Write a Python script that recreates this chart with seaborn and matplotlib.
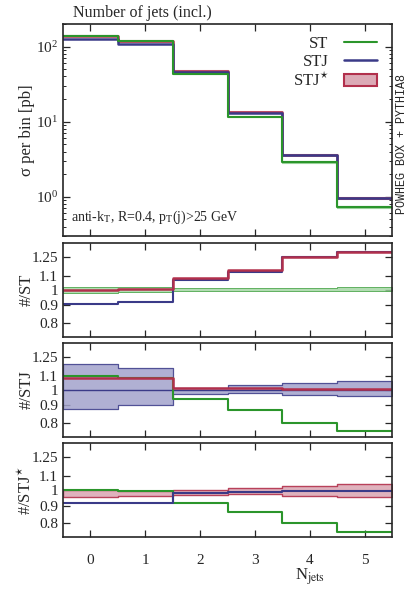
import numpy as np
import pandas as pd
import matplotlib
matplotlib.use("Agg")
import matplotlib.pyplot as plt
import matplotlib.ticker as mticker
from matplotlib.patches import Patch
from matplotlib.lines import Line2D
import seaborn as sns

# bins (number of jets, inclusive)
njets = [0, 1, 2, 3, 4, 5]
edges = [-0.5, 0.5, 1.5, 2.5, 3.5, 4.5, 5.5]

# cross section per bin [pb]
xs_st = [140.0, 118.0, 43.7, 11.7, 2.9, 0.73]
xs_stj = [128.0, 108.6, 46.5, 13.2, 3.6, 0.95]
xs_stjs = [139.3, 118.6, 47.2, 13.3, 3.63, 0.95]

# ratio panel 1: #/ST
r1_stj = [0.91, 0.92, 1.065, 1.13, 1.245, 1.29]
r1_stjs = [0.995, 1.005, 1.08, 1.14, 1.25, 1.29]
r1_st_lo = [0.98, 0.985, 0.99, 0.99, 0.99, 0.99]
r1_st_hi = [1.02, 1.015, 1.01, 1.01, 1.01, 1.015]

# ratio panel 2: #/STJ
r2_st = [1.095, 1.085, 0.94, 0.875, 0.80, 0.755]
r2_stjs = [1.085, 1.08, 1.015, 1.01, 1.005, 1.005]
r2_stj_lo = [0.88, 0.90, 0.975, 0.98, 0.965, 0.96]
r2_stj_hi = [1.19, 1.16, 1.01, 1.03, 1.045, 1.065]

# ratio panel 3: #/STJ*
r3_st = [1.0, 0.995, 0.92, 0.865, 0.80, 0.755]
r3_stj = [0.92, 0.92, 0.985, 0.99, 0.995, 0.995]
r3_stjs_lo = [0.955, 0.96, 0.97, 0.975, 0.96, 0.955]
r3_stjs_hi = [1.0, 0.995, 1.005, 1.015, 1.03, 1.045]

ratio_ticks = [0.8, 0.9, 1.0, 1.1, 1.25]
ratio_labels = ["0.8", "0.9", "1", "1.1", "1.25"]

c_st = "#2b952b"
c_stj = "#3a3a88"
c_stjs = "#b2304c"
f_st = "#9fd49f"
f_stj = "#a3a3cc"
f_stjs = "#dcaab6"

sns.set_theme(style="ticks")
plt.rcParams["font.family"] = ["Liberation Serif", "DejaVu Serif"]
plt.rcParams["mathtext.fontset"] = "stix"
plt.rcParams["font.size"] = 11
plt.rcParams["axes.linewidth"] = 1.2


def step_df(vals):
    # repeat last value so the last bin gets its full width
    return pd.DataFrame({"x": edges, "y": list(vals) + [vals[-1]]})


def step_line(ax, vals, color, lw=1.5):
    sns.lineplot(data=step_df(vals), x="x", y="y", ax=ax, color=color,
                 lw=lw, drawstyle="steps-post", estimator=None, sort=False)


def step_band(ax, lo, hi, fc, ec, alpha=1.0, lw=0.8):
    ax.fill_between(edges, list(lo) + [lo[-1]], list(hi) + [hi[-1]],
                    step="post", facecolor=fc, edgecolor=ec, lw=lw, alpha=alpha)


fig = plt.figure(figsize=(4.13, 5.90), dpi=100)
L, W = 63 / 413, 329 / 413


def ax_at(top, bottom):
    return fig.add_axes([L, 1 - bottom / 590, W, (bottom - top) / 590])


ax0 = ax_at(24, 236)
ax1 = ax_at(242.7, 336.7)
ax2 = ax_at(342.7, 437)
ax3 = ax_at(443.3, 537.3)

# main panel
step_band(ax0, [v * 0.98 for v in xs_st], [v * 1.02 for v in xs_st], f_st, f_st)
step_band(ax0, [v * 0.98 for v in xs_stjs], [v * 1.03 for v in xs_stjs], f_stjs, f_stjs)
step_line(ax0, xs_stjs, c_stjs, lw=1.8)
step_line(ax0, xs_stj, c_stj, lw=1.8)
step_line(ax0, xs_st, c_st, lw=1.5)
ax0.set_yscale("log")
ax0.set_ylim(0.3, 200)
ax0.set_ylabel("σ per bin [pb]", fontsize=12)
ax0.text(0.025, 0.07, r"anti-k$_\mathrm{T}$, R=0.4, p$_\mathrm{T}$(j)>25 GeV",
         transform=ax0.transAxes, fontsize=10)

handles = [Line2D([], [], color=c_st, lw=1.5),
           Line2D([], [], color=c_stj, lw=1.8),
           Patch(facecolor=f_stjs, edgecolor=c_stjs, lw=1.5)]
ax0.legend(handles, ["ST", "STJ", r"STJ$^{\star}$"], loc="upper right",
           bbox_to_anchor=(0.99, 1.0),
           frameon=False, markerfirst=False, fontsize=12, handlelength=2.0,
           labelspacing=0.12, borderaxespad=0.3, handletextpad=0.9)

# ratio #/ST
step_band(ax1, r1_st_lo, r1_st_hi, f_st, c_st, alpha=0.8, lw=0.6)
step_line(ax1, r1_stj, c_stj)
step_line(ax1, r1_stjs, c_stjs, lw=1.8)
ax1.set_ylabel("#/ST", fontsize=12)

# ratio #/STJ
step_band(ax2, r2_stj_lo, r2_stj_hi, f_stj, c_stj, alpha=0.85, lw=0.9)
step_line(ax2, [1.0] * 6, c_stj, lw=1.0)
step_line(ax2, r2_st, c_st)
step_line(ax2, r2_stjs, c_stjs, lw=1.8)
ax2.set_ylabel("#/STJ", fontsize=12)

# ratio #/STJ*
step_band(ax3, r3_stjs_lo, r3_stjs_hi, f_stjs, c_stjs, alpha=0.9, lw=1.0)
step_line(ax3, r3_st, c_st)
step_line(ax3, r3_stj, c_stj)
ax3.set_ylabel(r"#/STJ$^{\star}$", fontsize=12)

for ax in (ax1, ax2, ax3):
    ax.set_yscale("log")
    ax.set_ylim(0.727, 1.375)
    ax.yaxis.set_major_locator(mticker.FixedLocator(ratio_ticks))
    ax.yaxis.set_major_formatter(mticker.FixedFormatter(ratio_labels))
    ax.yaxis.set_minor_locator(mticker.NullLocator())
    ax.yaxis.set_label_coords(-0.085, 0.5)

for ax in (ax0, ax1, ax2, ax3):
    ax.set_xlim(-0.5, 5.5)
    ax.set_xticks(njets)
    ax.tick_params(which="major", direction="in", top=True, right=True,
                   length=5, width=0.9, labelsize=11)
    ax.tick_params(which="minor", direction="in", top=True, right=True,
                   length=2.5, width=0.7)
    if ax is not ax3:
        ax.set_xlabel("")
        ax.tick_params(labelbottom=False)
    for s in ax.spines.values():
        s.set_linewidth(1.2)

ax0.yaxis.set_label_coords(-0.085, 0.5)
ax3.tick_params(axis="x", pad=12)
ax3.set_xlabel(r"N$_\mathrm{jets}$", fontsize=12)
ax3.xaxis.set_label_coords(0.75, -0.31)

fig.text(73 / 413, 1 - 13 / 590, "Number of jets (incl.)", fontsize=11.5,
         va="center", ha="left")
fig.text(402 / 413, 1 - 144 / 590, "POWHEG BOX + PYTHIA8", rotation=90,
         family=["Liberation Mono", "DejaVu Sans Mono"], fontsize=8.5,
         ha="center", va="center")

fig.savefig("out.png", dpi=100)
